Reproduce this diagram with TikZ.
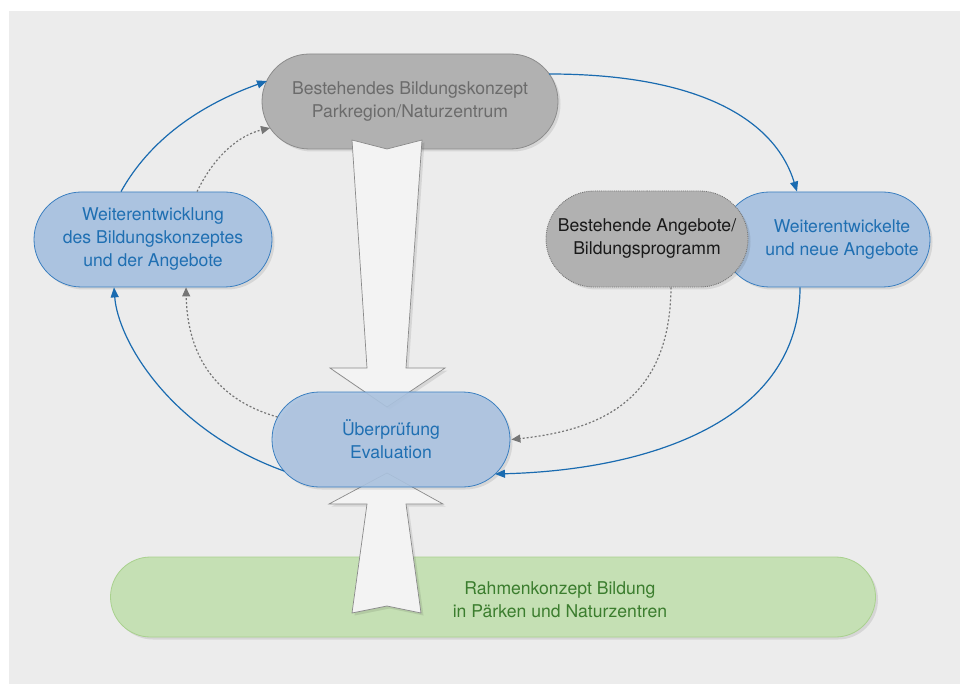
\documentclass[tikz,border=0pt]{standalone}
\usepackage{fontspec}
\setmainfont{TeX Gyre Heros}
\usetikzlibrary{shapes.misc,shadows,arrows.meta}
\definecolor{bg}{HTML}{ECECEC}
\definecolor{greyfill}{HTML}{B1B1B1}
\definecolor{greyborder}{HTML}{8C8C8C}
\definecolor{greytext}{HTML}{6B6B6B}
\definecolor{bluefill}{HTML}{ABC3E0}
\definecolor{blueborder}{HTML}{3B7FC0}
\definecolor{bluetext}{HTML}{1F6FB2}
\definecolor{blueline}{HTML}{1A6BB0}
\definecolor{dotline}{HTML}{767676}
\definecolor{greenfill}{HTML}{C5E0B4}
\definecolor{greenborder}{HTML}{A9D18E}
\definecolor{greentext}{HTML}{3B7D2E}
\definecolor{arrowfill}{HTML}{F3F3F3}
\definecolor{arrowborder}{HTML}{8A8A8A}
\begin{document}
\begin{tikzpicture}[x=1pt,y=1pt,
  txt/.style={align=center,font=\fontsize{17.6}{23}\selectfont},
  shad/.style={drop shadow={shadow xshift=2.5pt,shadow yshift=-2.5pt,opacity=0.09,fill=black}},
  base/.style={rounded rectangle,inner sep=0pt,txt,shad},
  bluebox/.style={base,fill=bluefill,draw=blueborder,text=bluetext,line width=0.8pt},
  greybox/.style={base,fill=greyfill,draw=greyborder,text=greytext,line width=0.8pt},
  dotbox/.style={base,fill=greyfill,draw=dotline,densely dotted,text=black!90,line width=0.9pt},
  greenbox/.style={base,fill=greenfill,draw=greenborder,line width=0.8pt},
  bigarrow/.style={fill=arrowfill,draw=arrowborder,line width=0.7pt,line join=miter,shad},
  blueconn/.style={draw=blueline,line width=1.2pt,-{Triangle[length=10pt,width=8pt]}},
  dotconn/.style={draw=dotline,line width=1.2pt,dash pattern=on 2pt off 2pt,-{Triangle[length=9pt,width=8pt]}}
]
\useasboundingbox (0,0) rectangle (960,-684);
\fill[bg] (9,-11) rectangle (960,-684);

% nodes below the big arrows
\node[greenbox,minimum width=765pt,minimum height=80pt] (frame) at (493,-597) {};
\node[txt,text=greentext] (frametext) at (560,-600) {Rahmenkonzept Bildung\\in Pärken und Naturzentren};
\node[greybox,minimum width=296pt,minimum height=95pt] (top) at (410,-101.5) {Bestehendes Bildungskonzept\\Parkregion/Naturzentrum};
\node[bluebox,minimum width=238pt,minimum height=95pt] (left) at (153,-239.5) {Weiterentwicklung\\des Bildungskonzeptes\\und der Angebote};
\node[bluebox,minimum width=208pt,minimum height=95pt] (right) at (826,-239.5) {};
\node[txt,text=bluetext] (righttext) at (842,-240) {Weiterentwickelte\\und neue Angebote};
\node[dotbox,minimum width=202pt,minimum height=96pt] (exist) at (647,-239) {Bestehende Angebote/\\Bildungsprogramm};

% big arrows
\filldraw[bigarrow] (352,-140) -- (387,-149) -- (422,-140) -- (406,-368) -- (445,-368)
  -- (387,-407) -- (330,-368) -- (367,-368) -- cycle;
\filldraw[bigarrow] (352,-613) -- (387,-606) -- (421,-613) -- (406,-504) -- (443,-504)
  -- (387,-473) -- (329,-504) -- (367,-504) -- cycle;

\node[bluebox,fill opacity=0.9,text opacity=1,minimum width=238pt,minimum height=95pt] (eval) at (391,-439.5) {Überprüfung\\Evaluation};

% connectors
\draw[blueconn] ([xshift=-32pt]left.north) .. controls +(29,52) and +(-67,-24) .. ([shift={(-143,20.5)}]top.center);
\draw[blueconn] ([shift={(139,27.5)}]top.center) .. controls +(150,0) and +(-22,72) .. ([xshift=-29pt]right.north);
\draw[blueconn] ([xshift=-26pt]right.south) .. controls +(0,-133) and +(155,4) .. ([shift={(104,-34.5)}]eval.center);
\draw[blueconn] ([shift={(-107,-31.5)}]eval.center) .. controls +(-114,41) and +(4,-53) .. ([xshift=-39pt]left.south);
\draw[dotconn] ([xshift=44pt]left.north) .. controls +(18,37) and +(-30,-7) .. ([shift={(-140,-26.5)}]top.center);
\draw[dotconn] ([shift={(-113.5,22.5)}]eval.center) .. controls +(-77.5,22) and +(1,-48) .. ([xshift=33pt]left.south);
\draw[dotconn] ([xshift=24pt]exist.south) .. controls +(-1,-113) and +(89,9.5) .. ([xshift=1pt]eval.east);
\end{tikzpicture}
\end{document}
